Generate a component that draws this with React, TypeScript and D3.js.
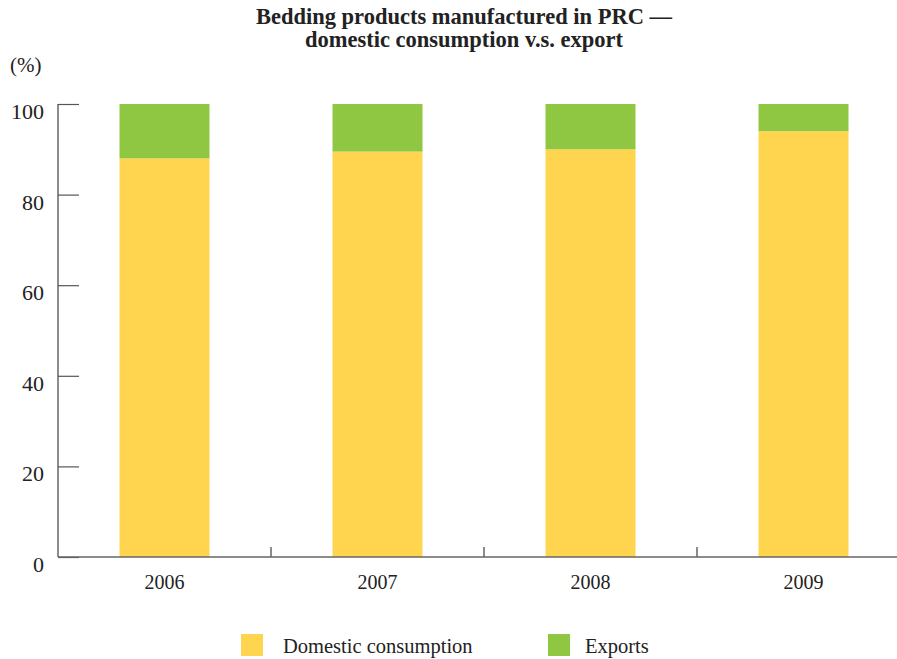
import React, { useRef, useEffect } from "react";
import * as d3 from "d3";

const years = ["2006", "2007", "2008", "2009"];
const domestic = [88, 89.5, 90, 94];
const exportsShare = [12, 10.5, 10, 6];
const yTicks = [0, 20, 40, 60, 80, 100];
const seriesNames = ["Domestic consumption", "Exports"];
const colors = ["#FFD54F", "#8FC742"];

const W = 897;
const H = 659;
const FONT = "'Liberation Serif', 'Times New Roman', serif";

export default function App() {
  const svgRef = useRef<SVGSVGElement>(null);

  useEffect(() => {
    const svg = d3.select(svgRef.current);
    svg.selectAll("*").remove();

    const left = 58;
    const bandW = 213;
    const x = d3
      .scaleBand()
      .domain(years)
      .range([left, left + bandW * years.length])
      .paddingInner(0)
      .paddingOuter(0);
    const y = d3.scaleLinear().domain([0, 100]).range([557, 104]);

    const rows = years.map((yr, i) => ({ year: yr, domestic: domestic[i], exports: exportsShare[i] }));
    const stacked = d3.stack<any>().keys(["domestic", "exports"])(rows);

    // title
    const title = svg
      .append("text")
      .attr("x", 464)
      .attr("y", 24)
      .attr("text-anchor", "middle")
      .attr("font-family", FONT)
      .attr("font-weight", "bold")
      .attr("font-size", 22.5)
      .attr("fill", "#222");
    title.append("tspan").attr("x", 464).attr("dy", 0).text("Bedding products manufactured in PRC \u2014");
    title.append("tspan").attr("x", 464).attr("dy", 23).text("domestic consumption v.s. export");

    svg
      .append("text")
      .attr("x", 10)
      .attr("y", 72)
      .attr("font-family", FONT)
      .attr("font-size", 21)
      .attr("fill", "#222")
      .text("(%)");

    // bars
    const barW = 90;
    stacked.forEach((s, si) => {
      svg
        .append("g")
        .selectAll("rect")
        .data(s)
        .join("rect")
        .attr("x", (d: any) => x(d.data.year)! + (bandW - barW) / 2)
        .attr("y", (d) => y(d[1]))
        .attr("width", barW)
        .attr("height", (d) => y(d[0]) - y(d[1]))
        .attr("fill", colors[si]);
    });

    // y axis
    const yAxis = svg
      .append("g")
      .attr("transform", `translate(${left},0)`)
      .call(d3.axisRight(y).tickValues(yTicks).tickSize(21).tickFormat(() => ""));
    yAxis.select(".domain").attr("stroke", "#666").attr("stroke-width", 1.5).attr("d", `M0,${y(100)}V${y(0)}`);
    yAxis.selectAll(".tick line").attr("stroke", "#555").attr("stroke-width", 1.2);

    svg
      .append("g")
      .selectAll("text")
      .data(yTicks)
      .join("text")
      .attr("x", 44)
      .attr("y", (d) => y(d) + 15)
      .attr("text-anchor", "end")
      .attr("font-family", FONT)
      .attr("font-size", 22)
      .attr("fill", "#222")
      .text((d) => d);

    // x axis
    svg
      .append("line")
      .attr("x1", left)
      .attr("x2", W)
      .attr("y1", y(0))
      .attr("y2", y(0))
      .attr("stroke", "#666")
      .attr("stroke-width", 1.5);
    svg
      .append("g")
      .selectAll("line")
      .data(years.slice(1))
      .join("line")
      .attr("x1", (d) => x(d)!)
      .attr("x2", (d) => x(d)!)
      .attr("y1", y(0))
      .attr("y2", y(0) - 10)
      .attr("stroke", "#666")
      .attr("stroke-width", 1.5);
    svg
      .append("g")
      .selectAll("text")
      .data(years)
      .join("text")
      .attr("x", (d) => x(d)! + bandW / 2)
      .attr("y", 589)
      .attr("text-anchor", "middle")
      .attr("font-family", FONT)
      .attr("font-size", 20)
      .attr("fill", "#222")
      .text((d) => d);

    // legend
    const legX = [241, 548];
    seriesNames.forEach((name, i) => {
      svg
        .append("rect")
        .attr("x", legX[i])
        .attr("y", 634)
        .attr("width", 22)
        .attr("height", 22)
        .attr("fill", colors[i]);
      svg
        .append("text")
        .attr("x", legX[i] + (i === 0 ? 42 : 37))
        .attr("y", 653)
        .attr("font-family", FONT)
        .attr("font-size", 20.5)
        .attr("fill", "#222")
        .text(name);
    });
  }, []);

  return <svg ref={svgRef} width={W} height={H} style={{ position: "absolute", left: 0, top: 0 }} />;
}
